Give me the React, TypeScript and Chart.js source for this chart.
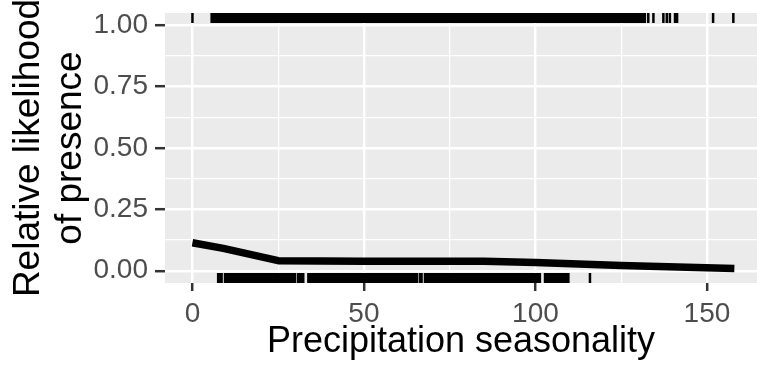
import React, { useEffect, useRef } from 'react';
import { Chart, registerables } from 'chart.js';

Chart.register(...registerables);

// Partial-dependence curve
const curveX = [0, 9, 25, 50, 85, 100, 125, 158];
const curveY = [0.114, 0.091, 0.041, 0.039, 0.039, 0.034, 0.021, 0.009];

// Axis ticks
const xMajorTicks = [0, 50, 100, 150];
const xMinorTicks = [25, 75, 125];
const yMajorTicks = [0, 0.25, 0.5, 0.75, 1];
const yMinorTicks = [0.125, 0.375, 0.625, 0.875];

// Rug: presence (top) and absence (bottom) observations
const presenceRanges = [[5.6, 131.9]];
const presenceSingles = [0, 132.9, 134.4, 137.3, 138.3, 139.2, 140.7, 141.3, 151.8, 157.7];
const absenceRanges = [
  [7.5, 8.5], [9.5, 23.1], [23.6, 25.0], [25.5, 27.5], [27.9, 29.9], [30.8, 32.3],
  [33.8, 65.4], [66.3, 66.8], [67.8, 89.7], [90.1, 94.5], [95.0, 96.4], [96.9, 99.4],
  [99.9, 101.3], [102.8, 105.7], [106.2, 109.6],
];
const absenceSingles = [115.9];

const xLabel = 'Precipitation seasonality';
const yLabel = ['Relative likelihood', 'of presence'];

const FONT = "'Liberation Sans', Arial, sans-serif";

const panelPlugin = {
  id: 'panelBg',
  beforeDraw(chart: any) {
    const { ctx, chartArea: a } = chart;
    ctx.save();
    ctx.fillStyle = '#EBEBEB';
    ctx.fillRect(a.left, a.top, a.right - a.left, a.bottom - a.top);
    ctx.restore();
  },
};

const rugPlugin = {
  id: 'rug',
  afterDatasetsDraw(chart: any) {
    const { ctx, chartArea: a, scales } = chart;
    const x = scales.x;
    const len = 10;
    const half = 1.25;
    ctx.save();
    ctx.beginPath();
    ctx.rect(a.left, a.top, a.right - a.left, a.bottom - a.top);
    ctx.clip();
    ctx.fillStyle = '#000000';
    const draw = (ranges: number[][], singles: number[], top: boolean) => {
      const y0 = top ? a.top : a.bottom - len;
      ranges.forEach(([s, e]) => {
        const p0 = x.getPixelForValue(s) - half;
        const p1 = x.getPixelForValue(e) + half;
        ctx.fillRect(p0, y0, p1 - p0, len);
      });
      singles.forEach((v) => {
        const p = x.getPixelForValue(v);
        ctx.fillRect(p - half, y0, half * 2, len);
      });
    };
    draw(presenceRanges, presenceSingles, true);
    draw(absenceRanges, absenceSingles, false);
    ctx.restore();
  },
};

export default function App() {
  const ref = useRef<HTMLCanvasElement | null>(null);

  useEffect(() => {
    if (!ref.current) return;
    const xTicks = [...xMajorTicks, ...xMinorTicks].sort((a, b) => a - b);
    const yTicks = [...yMajorTicks, ...yMinorTicks].sort((a, b) => a - b);
    const isXMajor = (v: number) => xMajorTicks.includes(v);
    const isYMajor = (v: number) => yMajorTicks.includes(v);

    const chart = new Chart(ref.current, {
      type: 'scatter',
      data: {
        datasets: [
          {
            data: curveX.map((x, i) => ({ x, y: curveY[i] })),
            showLine: true,
            borderColor: '#000000',
            backgroundColor: '#000000',
            borderWidth: 7.5,
            pointRadius: 0,
            tension: 0,
            borderCapStyle: 'butt',
            borderJoinStyle: 'round',
          } as any,
        ],
      },
      plugins: [panelPlugin, rugPlugin],
      options: {
        animation: false,
        responsive: false,
        devicePixelRatio: 1,
        layout: { padding: { top: 13, left: 0, right: 0, bottom: 0 }, autoPadding: false } as any,
        plugins: { legend: { display: false }, tooltip: { enabled: false } },
        scales: {
          x: {
            type: 'linear',
            min: -8,
            max: 164.6,
            afterBuildTicks: (s: any) => {
              s.ticks = xTicks.map((v) => ({ value: v }));
            },
            afterFit: (s: any) => {
              s.height = 100;
              s.paddingLeft = 0;
              s.paddingRight = 0;
              s.paddingTop = 0;
              s.paddingBottom = 0;
            },
            border: { display: false },
            grid: {
              color: '#FFFFFF',
              lineWidth: (c: any) => (isXMajor(c.tick?.value) ? 2.4 : 1.2),
              drawTicks: true,
              tickLength: 8,
              tickWidth: 2.5,
              tickColor: (c: any) => (isXMajor(c.tick?.value) ? '#333333' : 'rgba(0,0,0,0)'),
            },
            ticks: {
              autoSkip: false,
              maxRotation: 0,
              padding: 6,
              color: '#4D4D4D',
              font: { family: FONT, size: 28 },
              callback: (v: any) => (isXMajor(Number(v)) ? String(v) : ''),
            },
            title: {
              display: true,
              text: xLabel,
              color: '#000000',
              font: { family: FONT, size: 36 },
              padding: { top: 0, bottom: 19 },
            },
          },
          y: {
            type: 'linear',
            min: -0.05,
            max: 1.05,
            afterBuildTicks: (s: any) => {
              s.ticks = yTicks.map((v) => ({ value: v }));
            },
            afterFit: (s: any) => {
              s.width = 165;
              s.paddingLeft = 0;
              s.paddingRight = 0;
              s.paddingTop = 0;
              s.paddingBottom = 0;
            },
            border: { display: false },
            grid: {
              color: '#FFFFFF',
              lineWidth: (c: any) => (isYMajor(c.tick?.value) ? 2.4 : 1.2),
              drawTicks: true,
              tickLength: 10,
              tickWidth: 2.5,
              tickColor: (c: any) => (isYMajor(c.tick?.value) ? '#333333' : 'rgba(0,0,0,0)'),
            },
            ticks: {
              autoSkip: false,
              padding: 7,
              color: '#4D4D4D',
              font: { family: FONT, size: 28 },
              callback: (v: any) => (isYMajor(Number(v)) ? Number(v).toFixed(2) : ''),
            },
            title: {
              display: true,
              text: yLabel,
              color: '#000000',
              font: { family: FONT, size: 37, lineHeight: 1.13 },
              padding: { top: 8, bottom: 0 },
            },
          },
        },
      } as any,
    });
    return () => chart.destroy();
  }, []);

  return (
    <div style={{ position: 'absolute', left: 0, top: 0, width: 757, height: 383, background: '#FFFFFF' }}>
      <canvas ref={ref} width={757} height={383} style={{ width: 757, height: 383, display: 'block' }} />
    </div>
  );
}
